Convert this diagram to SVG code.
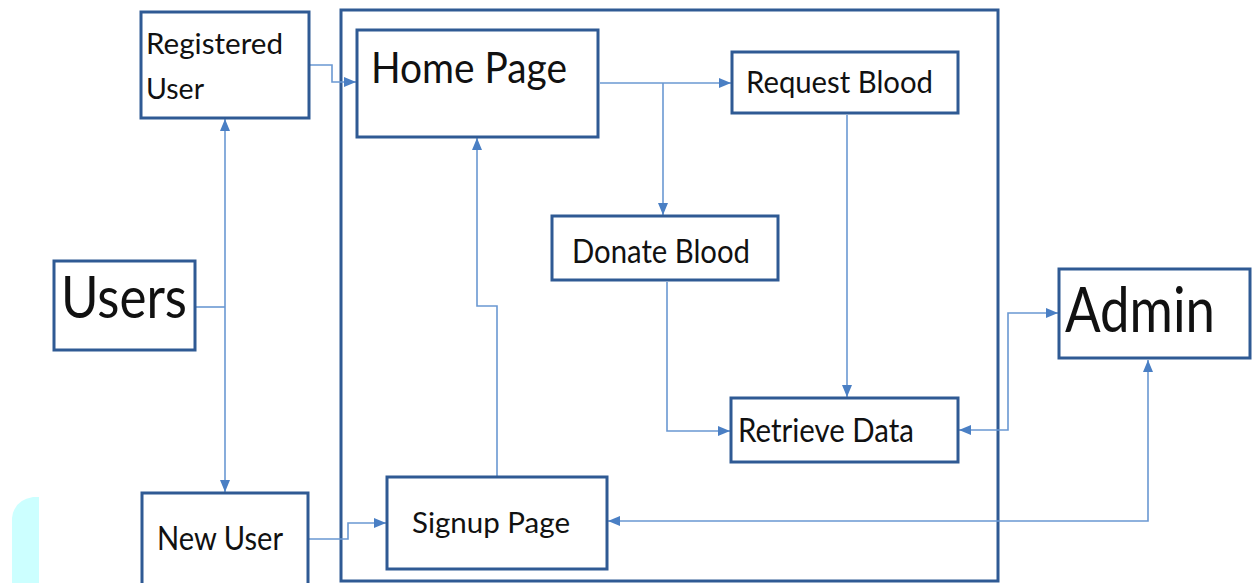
<svg xmlns="http://www.w3.org/2000/svg" width="1252" height="583" viewBox="0 0 1252 583">
  <style>
    .box { fill: #ffffff; stroke: #2f5a94; stroke-width: 3; }
    .frame { fill: none; stroke: #2f5a94; stroke-width: 3; }
    .lbl { font-family: Lato, "Open Sans", "Liberation Sans", sans-serif; fill: #111111; }
    .wire { fill: none; stroke: #6a98d2; stroke-width: 1.6; }
  </style>
  <defs>
    <marker id="arrow" markerUnits="userSpaceOnUse" markerWidth="12" markerHeight="12" viewBox="0 0 12 12" refX="12" refY="6" orient="auto-start-reverse">
      <path d="M0,1 L12,6 L0,11 Z" fill="#4a7fc4"/>
    </marker>
  </defs>

  <rect width="1252" height="583" fill="#ffffff"/>

  <!-- light cyan patch at the lower left edge -->
  <path d="M12,583 V518 Q14,500 33,497 H39 V583 Z" fill="#ccffff"/>

  <!-- system boundary -->
  <rect class="frame" x="341" y="10" width="657" height="571"/>

  <g id="connectors">
    <path class="wire" d="M196,307 H225"/>
    <path class="wire" d="M225,307 V119" marker-end="url(#arrow)"/>
    <path class="wire" d="M225,307 V492" marker-end="url(#arrow)"/>
    <path class="wire" d="M309,65 H332 V82 H356" marker-end="url(#arrow)"/>
    <path class="wire" d="M309,539 H348 V523 H386" marker-end="url(#arrow)"/>
    <path class="wire" d="M497,476 V306 H477 V138" marker-end="url(#arrow)"/>
    <path class="wire" d="M600,83 H731" marker-end="url(#arrow)"/>
    <path class="wire" d="M663,83 V215" marker-end="url(#arrow)"/>
    <path class="wire" d="M667,282 V431 H730" marker-end="url(#arrow)"/>
    <path class="wire" d="M847,115 V397" marker-end="url(#arrow)"/>
    <path class="wire" d="M959,430 H1008 V313 H1058" marker-start="url(#arrow)" marker-end="url(#arrow)"/>
    <path class="wire" d="M608,521 H1148 V360" marker-start="url(#arrow)" marker-end="url(#arrow)"/>
  </g>

  <g id="registered-user">
    <rect class="box" x="141" y="12" width="168" height="106"/>
    <text class="lbl" x="146" y="54" font-size="29" textLength="137" lengthAdjust="spacingAndGlyphs">Registered</text>
    <text class="lbl" x="146" y="99" font-size="29" textLength="58" lengthAdjust="spacingAndGlyphs">User</text>
  </g>

  <g id="users">
    <rect class="box" x="54" y="261" width="141" height="89"/>
    <text class="lbl" x="61" y="318" font-size="59" textLength="126" lengthAdjust="spacingAndGlyphs">Users</text>
  </g>

  <g id="new-user">
    <rect class="box" x="142" y="493" width="166" height="95"/>
    <text class="lbl" x="157" y="550" font-size="32" textLength="126" lengthAdjust="spacingAndGlyphs">New User</text>
  </g>

  <g id="home-page">
    <rect class="box" x="357" y="30" width="241" height="107"/>
    <text class="lbl" x="371" y="83" font-size="42" textLength="196" lengthAdjust="spacingAndGlyphs">Home Page</text>
  </g>

  <g id="request-blood">
    <rect class="box" x="732" y="52" width="226" height="61"/>
    <text class="lbl" x="746" y="93" font-size="31" textLength="187" lengthAdjust="spacingAndGlyphs">Request Blood</text>
  </g>

  <g id="donate-blood">
    <rect class="box" x="552" y="216" width="226" height="64"/>
    <text class="lbl" x="572" y="263" font-size="32" textLength="178" lengthAdjust="spacingAndGlyphs">Donate Blood</text>
  </g>

  <g id="retrieve-data">
    <rect class="box" x="731" y="398" width="227" height="64"/>
    <text class="lbl" x="738" y="442" font-size="32" textLength="176" lengthAdjust="spacingAndGlyphs">Retrieve Data</text>
  </g>

  <g id="signup-page">
    <rect class="box" x="387" y="477" width="220" height="92"/>
    <text class="lbl" x="412" y="533" font-size="29" textLength="158" lengthAdjust="spacingAndGlyphs">Signup Page</text>
  </g>

  <g id="admin">
    <rect class="box" x="1059" y="269" width="191" height="89"/>
    <text class="lbl" x="1065" y="332" font-size="61" textLength="150" lengthAdjust="spacingAndGlyphs">Admin</text>
  </g>
</svg>
